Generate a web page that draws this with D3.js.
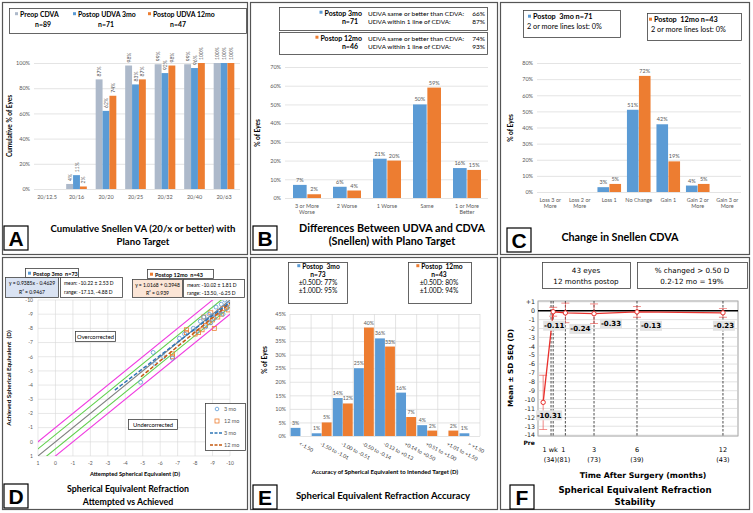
<!DOCTYPE html>
<html>
<head>
<meta charset="utf-8">
<script src="https://cdn.jsdelivr.net/npm/d3@7"></script>
<style>
  body { margin: 0; background: #fff; }
  svg { display: block; }
</style>
</head>
<body>
<svg id="fig" width="753" height="513"></svg>
<script>
// ---------- data ----------
// A: cumulative Snellen VA
const snellenCats = ["20/12.5", "20/16", "20/20", "20/25", "20/32", "20/40", "20/63"];
const snellenPreop = [0, 4, 87, 98, 99, 99, 100];
const snellen3mo = [0, 11, 62, 83, 92, 96, 100];
const snellen12mo = [0, 2, 74, 87, 98, 100, 100];

// B: UDVA vs CDVA difference
const diffCats = ["3 or More|Worse", "2 Worse", "1 Worse", "Same", "1 or More|Better"];
const diff3mo = [7, 6, 21, 50, 16];
const diff12mo = [2, 4, 20, 59, 15];

// C: change in CDVA
const cdvaCats = ["Loss 3 or|More", "Loss 2 or|More", "Loss 1", "No Change", "Gain 1", "Gain 2 or|More", "Gain 3 or|More"];
const cdva3mo = [0, 0, 3, 51, 42, 4, 0];
const cdva12mo = [0, 0, 5, 72, 19, 5, 0];

// D: attempted vs achieved SEQ (D)
const seq3mo = [
  [-4.88, -4.2], [-5.6, -6.3], [-5.7, -5.5], [-6.2, -6.0], [-6.7, -5.9], [-7.1, -7.3],
  [-7.4, -7.6], [-7.9, -8.0], [-8.1, -7.8], [-8.3, -8.5], [-8.5, -8.8], [-8.6, -8.1],
  [-8.8, -9.0], [-8.9, -8.4], [-9.1, -8.7], [-9.2, -9.5], [-9.4, -9.2], [-9.5, -9.7],
  [-9.6, -9.0], [-9.7, -10.0], [-9.8, -9.4], [-9.9, -9.7], [-9.0, -8.9], [-8.7, -8.6], [-9.3, -9.1]
];
const seq12mo = [
  [-6.7, -6.2], [-6.7, -6.0], [-7.5, -7.9], [-7.5, -7.7], [-8.0, -7.6], [-8.2, -7.7],
  [-8.4, -7.9], [-8.6, -8.2], [-8.8, -8.4], [-8.9, -9.1], [-9.0, -8.6], [-9.1, -8.0],
  [-9.3, -8.8], [-9.4, -9.2], [-9.5, -9.0], [-9.6, -9.4], [-9.8, -9.5], [-9.9, -9.3], [-8.5, -8.8]
];
const fit3mo = [[-3.4, -3.65], [-10, -9.85]];
const fit12mo = [[-4.9, -4.59], [-10, -9.77]];
const refOffsets = [0, -0.5, 0.5, -1, 1];
const axisTicksD = [1, 0, -1, -2, -3, -4, -5, -6, -7, -8, -9, -10];

// E: accuracy of SEQ
const accCats = ["<-1.50", "-1.50 to -1.01", "-1.00 to -0.51", "-0.50 to -0.14", "-0.13 to +0.13",
  "+0.14 to +0.50", "+0.51 to +1.00", "+1.01 to +1.50", "> +1.50"];
const acc3mo = [3, 1, 14, 25, 36, 16, 4, 0, 1];
const acc12mo = [0, 5, 12, 40, 33, 7, 2, 2, 0];

// F: stability
const stabNames = ["Pre", "1 wk", "1", "3", "6", "12"];
const stabMonths = [-0.55, 0.15, 1, 3, 6, 12];
const stabMean = [-10.31, -0.11, -0.24, -0.33, -0.13, -0.23];
const stabSD = [3.05, 0.5, 1.1, 1.1, 0.6, 0.5];
const stabN = ["", "(34)", "(81)", "(73)", "(39)", "(43)"];
const stabTicks = [1, 0, -1, -2, -3, -4, -5, -6, -7, -8, -9, -10, -11, -12, -13, -14];

// ---------- styles ----------
const FONT = "Lato, 'Liberation Sans', sans-serif";
const VFONT = "'DejaVu Sans', Verdana, sans-serif";
const BLUE = "#5b9bd5", ORANGE = "#ed7d31", GREY = "#adb9ca", AXIS = "#595959";

const svg = d3.select("#fig");
svg.append("rect").attr("width", 753).attr("height", 513).attr("fill", "#fff");

function text(g, x, y, s, size, opt = {}) {
  return g.append("text")
    .attr("x", x).attr("y", y)
    .attr("font-family", opt.family || FONT)
    .attr("font-size", size)
    .attr("font-weight", opt.bold ? "bold" : null)
    .attr("text-anchor", opt.anchor || "start")
    .attr("fill", opt.fill || "#000")
    .attr("xml:space", "preserve")
    .text(s);
}

function box(g, x, y, w, h, fill) {
  return g.append("rect").attr("x", x).attr("y", y).attr("width", w).attr("height", h)
    .attr("fill", fill || "#fff").attr("stroke", "#404040").attr("stroke-width", 0.8);
}

function letterBox(g, x, y, s) {
  box(g, x, y, 24, 24).attr("stroke", "#000").attr("stroke-width", 1.2);
  text(g, x + 12, y + 20, s, 21, { bold: true, anchor: "middle", family: "'Liberation Sans', Arial, sans-serif" });
}

// small coloured square just left of a text element
function legendMark(g, t, color) {
  const b = t.node().getBBox();
  g.append("rect").attr("x", b.x - 5).attr("y", b.y + b.height / 2 - 1.8)
    .attr("width", 3).attr("height", 3).attr("fill", color);
}

// panel frames
const frames = [[2.5, 2.5, 245, 252], [250.5, 2.5, 247, 252], [500.5, 2.5, 249, 252],
  [2.5, 257.5, 245, 252], [250.5, 257.5, 247, 252], [500.5, 257.5, 249, 252]];
frames.forEach(f => svg.append("rect").attr("x", f[0]).attr("y", f[1]).attr("width", f[2]).attr("height", f[3])
  .attr("fill", "#fff").attr("stroke", "#555").attr("stroke-width", 1.2));

// ---------- grouped bar helper ----------
function groupedBars(o) {
  const g = svg.append("g");
  const x = d3.scaleBand().domain(o.cats).range(o.xRange);
  const bw = x.bandwidth();
  const inner = d3.scaleBand().domain(d3.range(o.series.length))
    .range([bw * (1 - o.groupW) / 2, bw * (1 + o.groupW) / 2]).paddingInner(o.gap);
  const y = d3.scaleLinear().domain([0, o.yMax]).range(o.yRange);

  const grid = g.append("g").attr("transform", `translate(${o.gridX[0]},0)`)
    .call(d3.axisLeft(y).tickValues(o.ticks).tickSize(-(o.gridX[1] - o.gridX[0])).tickPadding(4)
      .tickFormat(d => d + "%"));
  grid.select(".domain").remove();
  grid.selectAll("line").attr("stroke", "#d9d9d9").attr("stroke-width", 0.7);
  grid.selectAll("text").attr("fill", AXIS).attr("font-size", o.tickFont).attr("font-family", FONT);

  if (o.vgrid) {
    g.selectAll(null).data(d3.range(o.cats.length + 1)).join("line")
      .attr("x1", i => o.xRange[0] + i * x.step()).attr("x2", i => o.xRange[0] + i * x.step())
      .attr("y1", o.yRange[1]).attr("y2", o.yRange[0])
      .attr("stroke", "#d9d9d9").attr("stroke-width", 0.7);
  }

  o.series.forEach((s, i) => {
    const data = s.values.map((v, j) => ({ cat: o.cats[j], v }));
    g.selectAll(null).data(data).join("rect")
      .attr("x", d => x(d.cat) + inner(i))
      .attr("y", d => y(d.v))
      .attr("width", inner.bandwidth())
      .attr("height", d => y(0) - y(d.v))
      .attr("fill", s.color);
    const lab = g.selectAll(null).data(data.filter(d => d.v > 0)).join("text")
      .attr("font-family", FONT).attr("font-size", o.valFont).attr("fill", AXIS)
      .text(d => d.v + "%");
    if (o.rotLabels) {
      lab.attr("transform", d => `translate(${x(d.cat) + inner(i) + inner.bandwidth() / 2 + 2},${y(d.v) - 3}) rotate(-90)`);
    } else {
      lab.attr("x", d => x(d.cat) + inner(i) + inner.bandwidth() / 2)
        .attr("y", d => y(d.v) - 3).attr("text-anchor", "middle");
    }
  });

  if (o.catRotate) {
    g.selectAll(null).data(o.cats).join("text")
      .attr("font-family", FONT).attr("font-size", o.catFont).attr("fill", "#404040")
      .attr("transform", d => `translate(${x(d) + bw / 2 - 2},${o.catY}) rotate(${o.catRotate})`)
      .text(d => d);
  } else {
    o.cats.forEach(c => {
      c.split("|").forEach((line, k) => {
        text(g, x(c) + bw / 2, o.catY + k * o.catFont * 1.25, line, o.catFont, { anchor: "middle", fill: AXIS });
      });
    });
  }
  return { g, x, y };
}

// ---------- Panel A ----------
{
  const g = svg.append("g");
  box(g, 9.5, 8.5, 237, 25);
  legendMark(g, text(g, 20, 17, "Preop CDVA", 6.9, { bold: true }), GREY);
  text(g, 43, 26.5, "n=89", 6.9, { bold: true, anchor: "middle" });
  legendMark(g, text(g, 78, 17, "Postop UDVA 3mo", 6.9, { bold: true }), BLUE);
  text(g, 106, 26.5, "n=71", 6.9, { bold: true, anchor: "middle" });
  legendMark(g, text(g, 153, 17, "Postop UDVA 12mo", 6.9, { bold: true }), ORANGE);
  text(g, 178, 26.5, "n=47", 6.9, { bold: true, anchor: "middle" });

  groupedBars({
    cats: snellenCats,
    series: [{ values: snellenPreop, color: GREY }, { values: snellen3mo, color: BLUE }, { values: snellen12mo, color: ORANGE }],
    xRange: [32.25, 238.75], groupW: 0.7, gap: 0,
    yMax: 100, yRange: [189, 63], ticks: [0, 20, 40, 60, 80, 100], gridX: [34, 240],
    tickFont: 5.5, valFont: 5, catFont: 5.5, catY: 198.5, rotLabels: true
  });
  text(g, 0, 0, "Cumulative % of Eyes", 6.5, { bold: true, anchor: "middle" })
    .attr("transform", "translate(12,126) rotate(-90)");
  text(g, 143, 232, "Cumulative Snellen VA (20/x or better) with", 9.6, { bold: true, anchor: "middle" });
  text(g, 143, 245, "Plano Target", 9.6, { bold: true, anchor: "middle" });
  letterBox(g, 4, 226, "A");
}

// ---------- Panel B ----------
{
  const g = svg.append("g");
  const fs = 7, fsr = 6.5;
  box(g, 279.5, 7.5, 208, 23);
  legendMark(g, text(g, 362, 15.5, "Postop 3mo", fs, { bold: true, anchor: "end" }), BLUE);
  text(g, 350, 23.5, "n=71", fs, { bold: true, anchor: "middle" });
  text(g, 368, 15.5, "UDVA same or better than CDVA:", fsr);
  text(g, 368, 23.5, "UDVA within 1 line of CDVA:", fsr);
  text(g, 485, 15.5, "66%", fsr, { anchor: "end" });
  text(g, 485, 23.5, "87%", fsr, { anchor: "end" });
  box(g, 279.5, 32.5, 208, 22);
  legendMark(g, text(g, 362, 40.5, "Postop 12mo", fs, { bold: true, anchor: "end" }), ORANGE);
  text(g, 350, 48.5, "n=46", fs, { bold: true, anchor: "middle" });
  text(g, 368, 40.5, "UDVA same or better than CDVA:", fsr);
  text(g, 368, 48.5, "UDVA within 1 line of CDVA:", fsr);
  text(g, 485, 40.5, "74%", fsr, { anchor: "end" });
  text(g, 485, 48.5, "93%", fsr, { anchor: "end" });

  groupedBars({
    cats: diffCats,
    series: [{ values: diff3mo, color: BLUE }, { values: diff12mo, color: ORANGE }],
    xRange: [287, 487], groupW: 0.7, gap: 0.05,
    yMax: 70, yRange: [198, 67], ticks: [0, 10, 20, 30, 40, 50, 60, 70], gridX: [285, 488],
    tickFont: 5.5, valFont: 5.5, catFont: 5.5, catY: 207.5
  });
  text(g, 0, 0, "% of Eyes", 6.5, { bold: true, anchor: "middle" }).attr("transform", "translate(260,133) rotate(-90)");
  text(g, 392, 232, "Differences Between UDVA and CDVA", 10.8, { bold: true, anchor: "middle" });
  text(g, 392, 245, "(Snellen) with Plano Target", 10.8, { bold: true, anchor: "middle" });
  letterBox(g, 253, 226, "B");
}

// ---------- Panel C ----------
{
  const g = svg.append("g");
  const fs = 7.3;
  box(g, 523.5, 10.5, 97, 27);
  legendMark(g, text(g, 533, 19, "Postop  3mo n=71", fs, { bold: true }), BLUE);
  text(g, 527, 28.5, "2 or more lines lost: 0%", fs);
  box(g, 647.5, 13.5, 94, 27);
  legendMark(g, text(g, 654, 22, "Postop  12mo n=43", fs, { bold: true }), ORANGE);
  text(g, 651, 31.5, "2 or more lines lost: 0%", fs);

  groupedBars({
    cats: cdvaCats,
    series: [{ values: cdva3mo, color: BLUE }, { values: cdva12mo, color: ORANGE }],
    xRange: [535.5, 742], groupW: 0.8, gap: 0.03,
    yMax: 80, yRange: [192, 63], ticks: [0, 10, 20, 30, 40, 50, 60, 70, 80], gridX: [537, 741],
    tickFont: 5.5, valFont: 5.5, catFont: 5.5, catY: 201.5
  });
  text(g, 0, 0, "% of Eyes", 6.5, { bold: true, anchor: "middle" }).attr("transform", "translate(513,128) rotate(-90)");
  text(g, 620, 241, "Change in Snellen CDVA", 10.8, { bold: true, anchor: "middle" });
  letterBox(g, 507, 228, "C");
}

// ---------- Panel D ----------
{
  const g = svg.append("g");
  const x = d3.scaleLinear().domain([1, -10]).range([38, 230]);
  const y = d3.scaleLinear().domain([1, -10]).range([456, 300]);

  // grid
  g.selectAll(null).data(axisTicksD).join("line")
    .attr("x1", d => x(d)).attr("x2", d => x(d)).attr("y1", y(-10)).attr("y2", y(1))
    .attr("stroke", "#d9d9d9").attr("stroke-width", 0.6);
  g.selectAll(null).data(axisTicksD).join("line")
    .attr("x1", x(1)).attr("x2", x(-10)).attr("y1", d => y(d)).attr("y2", d => y(d))
    .attr("stroke", "#d9d9d9").attr("stroke-width", 0.6);
  g.selectAll(null).data(axisTicksD).join("text")
    .attr("x", d => x(d)).attr("y", 465).attr("text-anchor", "middle")
    .attr("font-family", FONT).attr("font-size", 5).attr("fill", AXIS).text(d => d);
  g.selectAll(null).data(axisTicksD).join("text")
    .attr("x", 33).attr("y", d => y(d) + 1.8).attr("text-anchor", "end")
    .attr("font-family", FONT).attr("font-size", 5).attr("fill", AXIS).text(d => d);

  svg.append("clipPath").attr("id", "clipD").append("rect")
    .attr("x", x(1)).attr("y", y(-10)).attr("width", x(-10) - x(1)).attr("height", y(1) - y(-10));
  const plot = g.append("g").attr("clip-path", "url(#clipD)");
  const refColor = o => o === 0 ? "#808080" : (Math.abs(o) === 0.5 ? "#5ed04a" : "#f03ce0");
  plot.selectAll(null).data(refOffsets).join("line")
    .attr("x1", x(2)).attr("y1", o => y(2 + o)).attr("x2", x(-11)).attr("y2", o => y(-11 + o))
    .attr("stroke", refColor).attr("stroke-width", 1.1);

  plot.selectAll(null).data(seq12mo).join("rect")
    .attr("x", d => x(d[0]) - 2).attr("y", d => y(d[1]) - 2).attr("width", 4).attr("height", 4)
    .attr("fill", "none").attr("stroke", ORANGE).attr("stroke-width", 0.8);
  plot.selectAll(null).data(seq3mo).join("circle")
    .attr("cx", d => x(d[0])).attr("cy", d => y(d[1])).attr("r", 2)
    .attr("fill", "none").attr("stroke", BLUE).attr("stroke-width", 0.8);
  const line = d3.line().x(d => x(d[0])).y(d => y(d[1]));
  plot.append("path").attr("d", line(fit12mo)).attr("stroke", "#c55a11").attr("stroke-width", 1.5)
    .attr("stroke-dasharray", "4,2").attr("fill", "none");
  plot.append("path").attr("d", line(fit3mo)).attr("stroke", "#2e75b6").attr("stroke-width", 1.5)
    .attr("stroke-dasharray", "4,2").attr("fill", "none");

  // boxes
  box(g, 25.5, 268.5, 53, 9);
  legendMark(g, text(g, 33, 275.5, "Postop 3mo  n=73", 5.5, { bold: true }), BLUE);
  box(g, 5.5, 277.5, 53, 20, "#dae3f3");
  text(g, 32, 285, "y = 0.9385x - 0.4629", 5, { anchor: "middle" });
  text(g, 32, 293.5, "R\u00b2 = 0.9467", 5, { anchor: "middle" });
  box(g, 60.5, 277.5, 62, 20);
  text(g, 64, 285, "mean: -10.22 \u00b1 2.53 D", 5);
  text(g, 64, 293.5, "range: -17.13, -4.88 D", 5);

  box(g, 147.5, 269.5, 66, 9);
  legendMark(g, text(g, 155, 276.5, "Postop 12mo  n=43", 5.5, { bold: true }), ORANGE);
  box(g, 132.5, 279.5, 50, 18, "#fbe5d6");
  text(g, 157.5, 286.5, "y = 1.0168 + 0.3948", 5, { anchor: "middle" });
  text(g, 157.5, 294.5, "R\u00b2 = 0.939", 5, { anchor: "middle" });
  box(g, 183.5, 279.5, 61, 18);
  text(g, 187, 286.5, "mean: -10.02 \u00b1 1.81 D", 5);
  text(g, 187, 294.5, "range: -13.50, -6.25 D", 5);

  box(g, 75.5, 331.5, 40, 10);
  text(g, 95.5, 338.5, "Overcorrected", 5.8, { anchor: "middle" });
  box(g, 128.5, 419.5, 49, 10);
  text(g, 153, 426.5, "Undercorrected", 5.8, { anchor: "middle" });

  // legend
  box(g, 205.5, 403.5, 40, 47);
  const lg = [
    { t: "3 mo", kind: "c" }, { t: "12 mo", kind: "s" }, { t: "3 mo", kind: "l3" }, { t: "12 mo", kind: "l12" }
  ];
  lg.forEach((d, i) => {
    const yy = 409 + i * 12;
    if (d.kind === "c") g.append("circle").attr("cx", 217).attr("cy", yy).attr("r", 1.8).attr("fill", "none").attr("stroke", BLUE).attr("stroke-width", 0.8);
    if (d.kind === "s") g.append("rect").attr("x", 215).attr("y", yy - 2).attr("width", 4).attr("height", 4).attr("fill", "none").attr("stroke", ORANGE).attr("stroke-width", 0.8);
    if (d.kind === "l3" || d.kind === "l12") g.append("line").attr("x1", 210).attr("x2", 222).attr("y1", yy).attr("y2", yy)
      .attr("stroke", d.kind === "l3" ? "#2e75b6" : "#c55a11").attr("stroke-width", 1.3).attr("stroke-dasharray", "3,1.5");
    text(g, 224, yy + 2, d.t, 5.5, { fill: AXIS });
  });

  text(g, 0, 0, "Achieved Spherical Equivalent  (D)", 6.3, { bold: true, anchor: "middle" })
    .attr("transform", "translate(11,378) rotate(-90)");
  text(g, 135, 476, "Attempted Spherical Equivalent (D)", 5.8, { bold: true, anchor: "middle" });
  text(g, 128, 492, "Spherical Equivalent Refraction", 8.8, { bold: true, anchor: "middle" });
  text(g, 128, 505, "Attempted vs Achieved", 8.8, { bold: true, anchor: "middle" });
  letterBox(g, 4, 484, "D");
}

// ---------- Panel E ----------
{
  const g = svg.append("g");
  const fs = 6.7;
  box(g, 288.5, 262.5, 59, 41);
  legendMark(g, text(g, 321, 269, "Postop  3mo", fs, { bold: true, anchor: "middle" }), BLUE);
  text(g, 318, 276.5, "n=73", fs, { bold: true, anchor: "middle" });
  text(g, 318, 284.5, "\u00b10.50D: 77%", fs, { anchor: "middle" });
  text(g, 318, 292.5, "\u00b11.00D: 95%", fs, { anchor: "middle" });
  box(g, 408.5, 262.5, 63, 41);
  legendMark(g, text(g, 442, 269, "Postop  12mo", fs, { bold: true, anchor: "middle" }), ORANGE);
  text(g, 439, 276.5, "n=43", fs, { bold: true, anchor: "middle" });
  text(g, 439, 284.5, "\u00b10.50D: 80%", fs, { anchor: "middle" });
  text(g, 439, 292.5, "\u00b11.00D: 94%", fs, { anchor: "middle" });

  groupedBars({
    cats: accCats,
    series: [{ values: acc3mo, color: BLUE }, { values: acc12mo, color: ORANGE }],
    xRange: [290, 480], groupW: 0.94, gap: 0.02,
    yMax: 45, yRange: [436, 314], ticks: [0, 5, 10, 15, 20, 25, 30, 35, 40, 45], gridX: [290, 480],
    tickFont: 5.5, valFont: 5.2, catFont: 5.2, catY: 445, catRotate: 28, vgrid: true
  });
  text(g, 0, 0, "% of Eyes", 6.5, { bold: true, anchor: "middle" }).attr("transform", "translate(267,360) rotate(-90)");
  text(g, 385, 474, "Accuracy of Spherical Equivalent to Intended Target (D)", 6, { bold: true, anchor: "middle" });
  text(g, 383, 499, "Spherical Equivalent Refraction Accuracy", 9.6, { bold: true, anchor: "middle" });
  letterBox(g, 253, 485, "E");
}

// ---------- Panel F ----------
{
  const g = svg.append("g");
  const x = d3.scaleLinear().domain([-0.91, 13.05]).range([538, 738]);
  const y = d3.scaleLinear().domain([-14.1, 1.1]).range([436, 301]);
  const RED = "#e8302c";

  box(g, 542.5, 262.5, 88, 26);
  text(g, 586, 273, "43 eyes", 7.2, { anchor: "middle", family: VFONT });
  text(g, 586, 283.5, "12 months postop", 7.2, { anchor: "middle", family: VFONT });
  box(g, 637.5, 262.5, 110, 26);
  text(g, 692, 273, "% changed > 0.50 D", 7.2, { anchor: "middle", family: VFONT });
  text(g, 692, 283.5, "0.2-12 mo = 19%", 7.2, { anchor: "middle", family: VFONT });

  g.append("rect").attr("x", 538).attr("y", 301).attr("width", 200).attr("height", 135)
    .attr("fill", "#fff").attr("stroke", "#888").attr("stroke-width", 0.8);
  g.selectAll(null).data(stabTicks).join("line")
    .attr("x1", 538).attr("x2", 738).attr("y1", d => y(d)).attr("y2", d => y(d))
    .attr("stroke", d => d === 0 ? "#000" : "#cfcfcf").attr("stroke-width", d => d === 0 ? 1.4 : 0.6);
  g.selectAll(null).data(stabTicks).join("text")
    .attr("x", 535).attr("y", d => y(d) + 2.3).attr("text-anchor", "end")
    .attr("font-family", VFONT).attr("font-size", 6.3).attr("fill", "#222")
    .text(d => d > 0 ? "+" + d : d);

  // dashed time markers
  const marks = [0, ...stabMonths.slice(1)];
  g.selectAll(null).data(marks).join("line")
    .attr("x1", d => x(d)).attr("x2", d => x(d)).attr("y1", 301).attr("y2", 436)
    .attr("stroke", "#222").attr("stroke-width", 0.8).attr("stroke-dasharray", "2.5,1.5");

  const pts = stabMonths.map((m, i) => ({ m, mean: stabMean[i], sd: stabSD[i] }));
  // error bars
  pts.forEach(d => {
    const cx = x(d.m);
    g.append("line").attr("x1", cx).attr("x2", cx).attr("y1", y(d.mean + d.sd)).attr("y2", y(d.mean - d.sd))
      .attr("stroke", RED).attr("stroke-width", 0.7).attr("opacity", 0.8);
    [d.mean + d.sd, d.mean - d.sd].forEach(v => g.append("line").attr("x1", cx - 4).attr("x2", cx + 4)
      .attr("y1", y(v)).attr("y2", y(v)).attr("stroke", RED).attr("stroke-width", 0.7).attr("opacity", 0.8));
  });
  g.append("path").datum(pts)
    .attr("d", d3.line().x(d => x(d.m)).y(d => y(d.mean)))
    .attr("fill", "none").attr("stroke", RED).attr("stroke-width", 1.3);
  g.selectAll(null).data(pts).join("circle")
    .attr("cx", d => x(d.m)).attr("cy", d => y(d.mean)).attr("r", 2.2)
    .attr("fill", "#fff").attr("stroke", RED).attr("stroke-width", 1);

  // value tags, offset from their points
  const tagOffsets = [[6, 13], [1, 14], [15, 16], [17, 10], [14, 14], [1, 13]];
  pts.forEach((d, i) => {
    const cx = x(d.m) + tagOffsets[i][0], cy = y(d.mean) + tagOffsets[i][1];
    const w = d.mean < -10 ? 26 : 22;
    g.append("rect").attr("x", cx - w / 2).attr("y", cy - 5).attr("width", w).attr("height", 10).attr("fill", "#e3e3e3");
    text(g, cx, cy + 2.5, d.mean.toFixed(2), 7, { bold: true, anchor: "middle", family: VFONT });
  });

  // x labels
  pts.forEach((d, i) => {
    if (i === 0) {
      text(g, x(d.m) - 14, 445, stabNames[i], 6, { bold: true, anchor: "middle", family: VFONT });
      return;
    }
    const lx = i === 1 ? x(d.m) - 3 : (i === 2 ? x(d.m) - 2 : x(d.m));
    text(g, lx, 452, stabNames[i], 6.5, { anchor: "middle", family: VFONT });
  });
  text(g, 557, 461.5, stabN[1] + stabN[2], 6.5, { anchor: "middle", family: VFONT });
  stabN.slice(3).forEach((n, k) => text(g, x(stabMonths[k + 3]), 461.5, n, 6.5, { anchor: "middle", family: VFONT }));

  text(g, 0, 0, "Mean \u00b1 SD SEQ (D)", 7.2, { bold: true, anchor: "middle", family: VFONT })
    .attr("transform", "translate(513,368) rotate(-90)");
  text(g, 643, 477.5, "Time After Surgery (months)", 7.8, { bold: true, anchor: "middle", family: VFONT });
  text(g, 635, 493, "Spherical Equivalent Refraction", 8.6, { bold: true, anchor: "middle", family: VFONT });
  text(g, 635, 505, "Stability", 8.6, { bold: true, anchor: "middle", family: VFONT });
  letterBox(g, 510, 485, "F");
}
</script>
</body>
</html>
